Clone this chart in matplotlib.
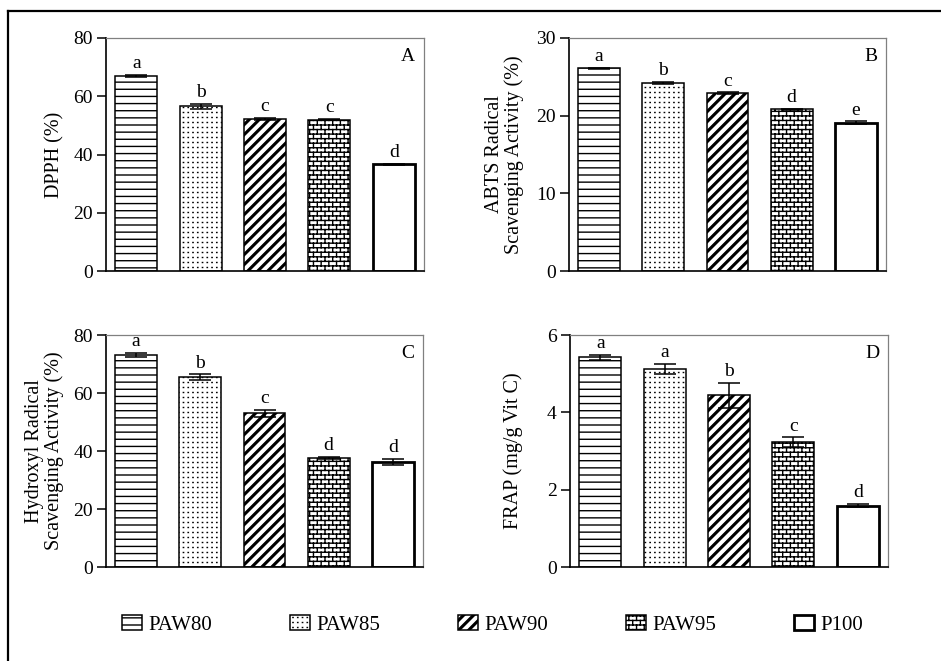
import warnings
import numpy as np
import matplotlib
matplotlib.use('Agg')
import matplotlib.pyplot as plt
from matplotlib import hatch as mhatch
from matplotlib.path import Path
from matplotlib.lines import Line2D

warnings.filterwarnings('ignore')

groups = ['PAW80', 'PAW85', 'PAW90', 'PAW95', 'P100']

dpph = [67.0, 56.5, 52.2, 52.0, 36.6]
dpph_err = [0.3, 0.9, 0.3, 0.3, 0.3]
dpph_letters = ['a', 'b', 'c', 'c', 'd']

abts = [26.1, 24.2, 22.9, 20.8, 19.1]
abts_err = [0.1, 0.1, 0.1, 0.1, 0.15]
abts_letters = ['a', 'b', 'c', 'd', 'e']

hydroxyl = [73.2, 65.5, 53.0, 37.7, 36.3]
hydroxyl_err = [0.7, 0.9, 1.2, 0.3, 1.1]
hydroxyl_letters = ['a', 'b', 'c', 'd', 'd']

frap = [5.42, 5.12, 4.44, 3.23, 1.59]
frap_err = [0.07, 0.13, 0.33, 0.12, 0.05]
frap_letters = ['a', 'a', 'b', 'c', 'd']


class TextureHatch(mhatch.HatchPatternBase):
    """extra hatch codes: h = fine horizontal lines, d = fine dots,
    s = bold diagonal stripes, b = brick wall"""

    def __init__(self, hatch, density):
        segs = []
        hatch = hatch or ''
        if 'h' in hatch:
            n = 14
            for i in range(n):
                y = (i + 0.5) / n
                segs.append([(0, y), (1, y)])
        if 'd' in hatch:
            rows, cols = 20, 21
            for i in range(rows):
                for j in range(cols):
                    x, y = (j + 0.5) / cols, (i + 0.5) / rows
                    segs.append([(x, y), (x + 0.003, y)])
        if 's' in hatch:
            n = 10
            for k in range(-n, n + 1):
                for off in (0.0, 0.012, 0.024):
                    c = k / n + off
                    segs.append([(0, c), (1, 1 + c)])
        if 'b' in hatch:
            rows, cols = 22, 13
            for i in range(-1, rows):
                y0, y1 = (i + 0.5) / rows, (i + 1.5) / rows
                segs.append([(0, y0), (1, y0)])
                shift = 0.5 * (i % 2)
                for j in range(cols):
                    x = (j + 0.25 + shift) / cols
                    segs.append([(x, y0), (x, y1)])
        self.segs = np.array(segs, dtype=float).reshape(-1, 2)
        self.num_lines = len(segs)
        self.num_vertices = 2 * len(segs)

    def set_vertices_and_codes(self, vertices, codes):
        vertices[:] = self.segs
        codes[0::2] = Path.MOVETO
        codes[1::2] = Path.LINETO


mhatch._hatch_types.append(TextureHatch)

plt.rcParams['font.family'] = ['Liberation Serif', 'DejaVu Serif']
plt.rcParams['hatch.linewidth'] = 1.0

hatches = ['h', 'd', 's', 'b', None]
edge_lw = [1.1, 1.1, 1.1, 1.1, 2.0]

panels = [
    (dpph, dpph_err, dpph_letters, 'DPPH (%)', [0, 20, 40, 60, 80], 'A',
     [106, 38, 318, 233], -0.13),
    (abts, abts_err, abts_letters, 'ABTS Radical\nScavenging Activity (%)', [0, 10, 20, 30], 'B',
     [569, 38, 317, 233], -0.142),
    (hydroxyl, hydroxyl_err, hydroxyl_letters, 'Hydroxyl Radical\nScavenging Activity (%)',
     [0, 20, 40, 60, 80], 'C', [106, 335, 317, 232], -0.132),
    (frap, frap_err, frap_letters, 'FRAP (mg/g Vit C)', [0, 2, 4, 6], 'D',
     [570, 335, 318, 232], -0.148),
]

W, H = 941, 661
fig = plt.figure(figsize=(W / 100, H / 100), dpi=100)
x = np.arange(len(groups))

legend_bars = None
for vals, errs, letters, ylabel, yticks, tag, (px, py, pw, ph), lab_x in panels:
    ax = fig.add_axes([px / W, 1 - (py + ph) / H, pw / W, ph / H])
    bars = ax.bar(x, vals, width=0.65, color='white', edgecolor='black', zorder=2)
    for b, h, lw, name in zip(bars, hatches, edge_lw, groups):
        if h:
            b.set_hatch(h)
        b.set_linewidth(lw)
        b.set_label(name)
    if legend_bars is None:
        legend_bars = bars
    ax.errorbar(x, vals, yerr=errs, fmt='none', ecolor='black', elinewidth=1.1,
                capsize=8, capthick=1.1, zorder=3)
    for xi, v, e, lt in zip(x, vals, errs, letters):
        ax.annotate(lt, (xi, v + e), xytext=(0, 2), textcoords='offset points',
                    ha='center', va='bottom', fontsize=14)
    ax.set_xlim(-0.47, 4.47)
    ax.set_ylim(yticks[0], yticks[-1])
    ax.set_yticks(yticks)
    ax.set_xticks([])
    ax.tick_params(axis='y', direction='out', length=6.5, width=1.1, pad=3, labelsize=14)
    for s in ['left', 'bottom']:
        ax.spines[s].set_linewidth(1.2)
        ax.spines[s].set_color('black')
    for s in ['top', 'right']:
        ax.spines[s].set_linewidth(0.9)
        ax.spines[s].set_color('#808080')
    ax.set_ylabel(ylabel, fontsize=14.5, linespacing=1.0)
    ax.yaxis.set_label_coords(lab_x, 0.5)
    ax.text(0.972, 0.957, tag, transform=ax.transAxes, ha='right', va='top', fontsize=14)

fig.legend(handles=list(legend_bars), labels=groups, loc='center',
           bbox_to_anchor=(0.5234, 1 - 625 / H), ncol=5, frameon=False, fontsize=15,
           handlelength=0.95, handleheight=0.72, handletextpad=0.3, columnspacing=3.75)

# outer frame of the figure (top and left edges)
fig.add_artist(Line2D([8 / W, 1], [1 - 11 / H, 1 - 11 / H], transform=fig.transFigure,
                      color='black', lw=1.6))
fig.add_artist(Line2D([8 / W, 8 / W], [0, 1 - 11 / H], transform=fig.transFigure,
                      color='black', lw=1.6))

fig.savefig('out.png', dpi=100)
